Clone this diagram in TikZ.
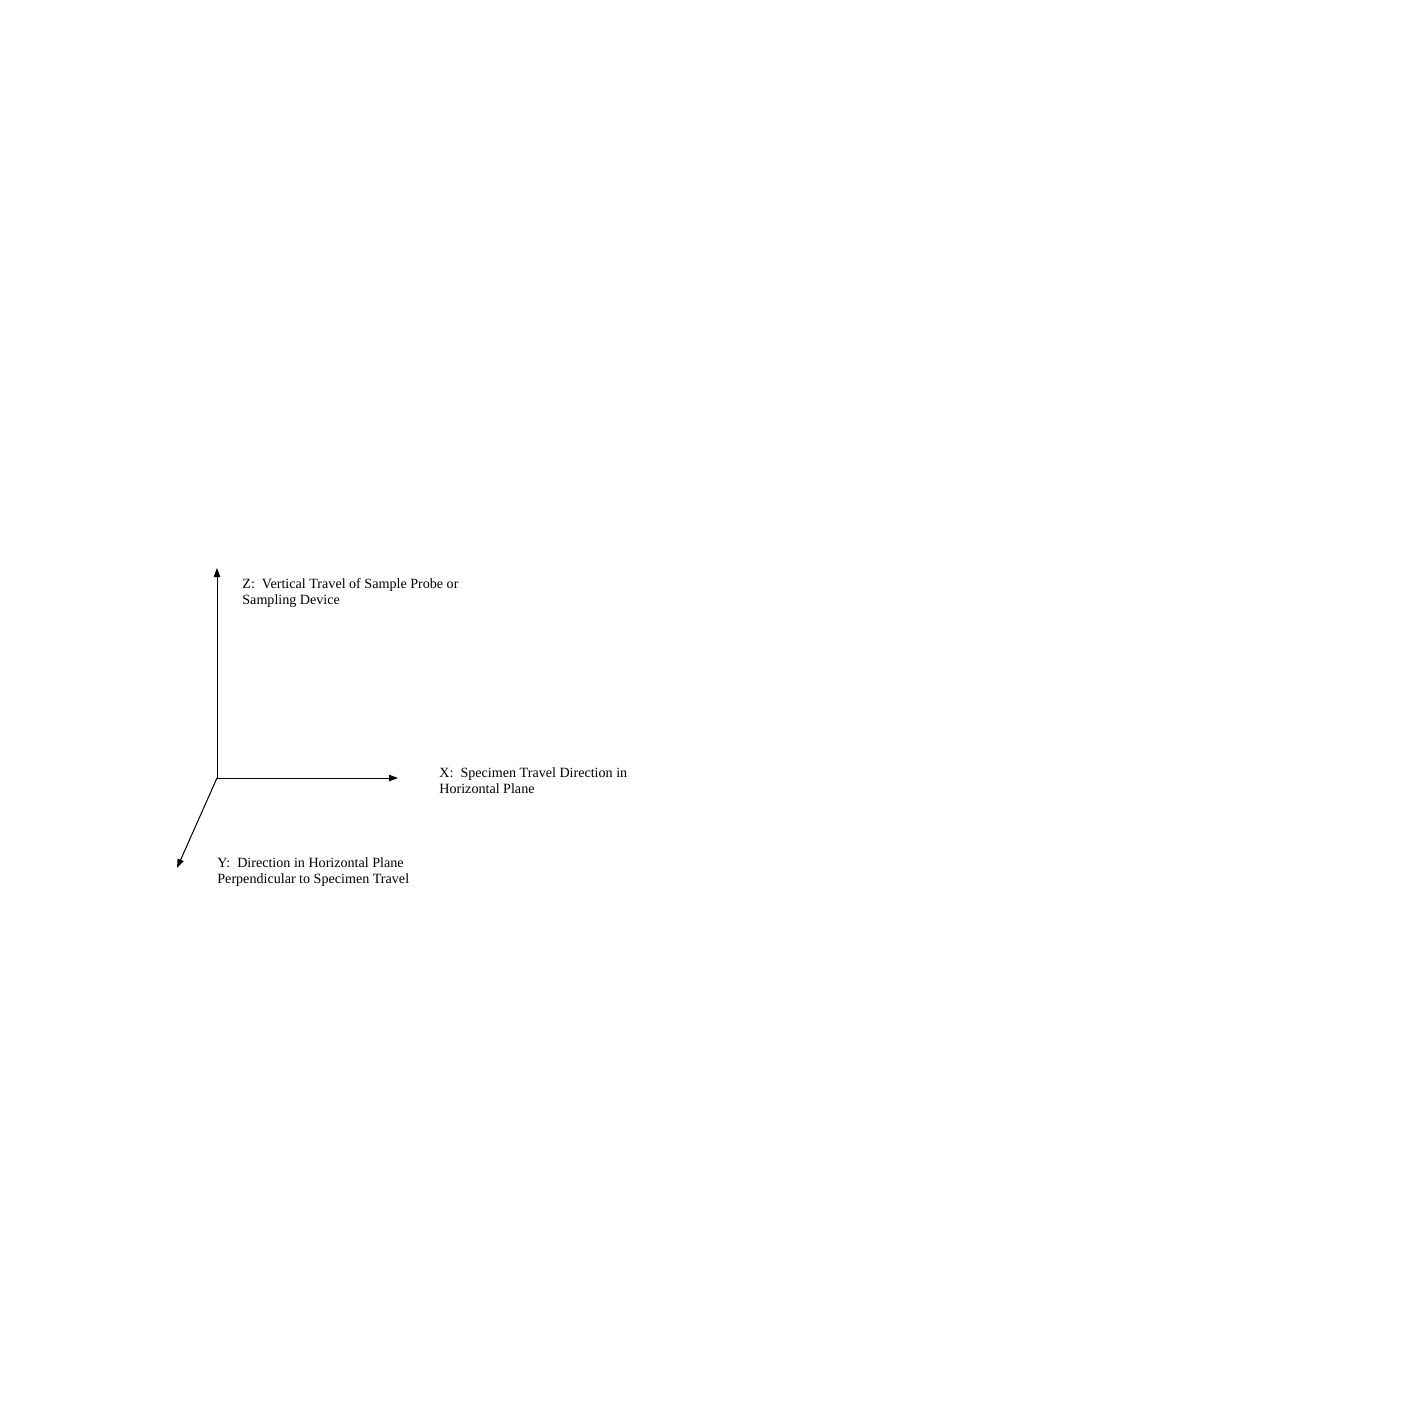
\documentclass[tikz,border=0pt]{standalone}
\usepackage{fontspec}
\setmainfont{Liberation Serif}
\usetikzlibrary{arrows.meta}
\tikzset{
	axis/.style={line width=0.5pt,-{Triangle[length=4.5pt,width=3.2pt]}},
	axislabel/.style={anchor=base west,inner sep=0pt,align=left,font=\fontsize{7.05pt}{8pt}\selectfont}
}

\begin{document}
\begin{tikzpicture}[x=0.5pt,y=-0.5pt]
	\useasboundingbox (0,0) rectangle (1415,1413);
	\coordinate (o) at (217,778);
	\coordinate (ztip) at (217,568);
	\coordinate (xtip) at (398,778);
	\coordinate (ytip) at (177,868);

	\draw [axis] (o) -- (ztip);
	\draw [axis] (o) -- (xtip);
	\draw [axis] (o) -- (ytip);

	% base anchor sits on the last line
	\node [axislabel] (zlabel) at (242,604) {Z:\ \ Vertical Travel of Sample Probe or\\Sampling Device};
	\node [axislabel] (xlabel) at (439,793) {X:\ \ Specimen Travel Direction in\\Horizontal Plane};
	\node [axislabel] (ylabel) at (217,883) {Y:\ \ Direction in Horizontal Plane\\Perpendicular to Specimen Travel};
\end{tikzpicture}
\end{document}
